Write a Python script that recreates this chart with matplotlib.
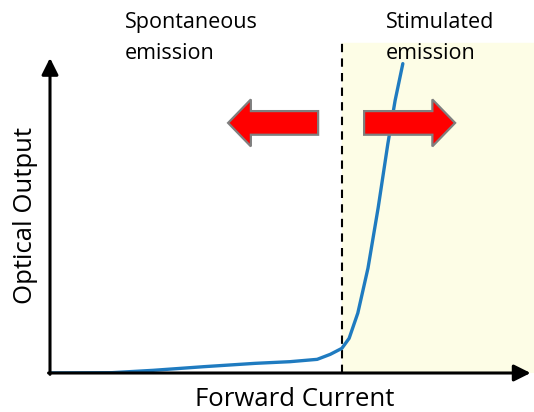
import matplotlib
matplotlib.use("Agg")
import matplotlib.pyplot as plt
from matplotlib.patches import FancyArrow

# forward current vs optical output (arbitrary units)
current = [0.2, 12.8, 21.3, 31.8, 42.4, 49.6, 55.2, 57.9, 60.3, 61.8, 63.6, 65.7, 67.8, 69.8, 71.3, 72.9]
output = [0.0, 0.1, 0.8, 1.9, 2.9, 3.4, 4.1, 5.6, 7.4, 10.4, 18.0, 31.5, 49.6, 68.8, 81.8, 92.9]
threshold = 60.3
region_labels = ["Spontaneous\nemission", "Stimulated\nemission"]
x_label = "Forward Current"
y_label = "Optical Output"

plt.rcParams['font.family'] = ['Open Sans', 'DejaVu Sans']

fig = plt.figure(figsize=(5.34, 4.12), dpi=100)
ax = fig.add_axes([50 / 534, (412 - 373) / 412, (534 - 50) / 534, (373 - 40) / 412])
ax.set_xlim(0, 100)
ax.set_ylim(0, 100)
ax.axis("off")

# shaded stimulated region
ax.axvspan(threshold, 100, ymin=0, ymax=0.99, color="#fdfde6", zorder=0)
ax.plot([threshold, threshold], [0, 99.5], color="black", lw=1.5, ls=(0, (4, 3)), zorder=2)

ax.plot(current, output, color="#1f7bc0", lw=2.4, solid_capstyle="round", zorder=3)

# axes with arrowheads
arrow_style = "-|>,head_width=0.5,head_length=1.0"
ax.annotate("", xy=(0, 94.6), xytext=(0, -0.4),
            arrowprops=dict(arrowstyle=arrow_style, color="black", lw=2.2,
                            shrinkA=0, shrinkB=0), annotation_clip=False)
ax.annotate("", xy=(99.3, 0), xytext=(-0.3, 0),
            arrowprops=dict(arrowstyle=arrow_style, color="black", lw=2.2,
                            shrinkA=0, shrinkB=0), annotation_clip=False)

# direction arrows
for x0, dx in [(55.4, -18.6), (64.9, 18.8)]:
    ax.add_patch(FancyArrow(x0, 75.1, dx, 0, width=7.1, head_width=14.1, head_length=4.7,
                            length_includes_head=True, facecolor="#ff0000", edgecolor="#7f7f7f",
                            lw=1.6, zorder=4))

fig.text(125 / 534, 1 - 38 / 412, region_labels[0], fontsize=15.5, ha="left", va="center",
         linespacing=1.6)
fig.text(386 / 534, 1 - 38 / 412, region_labels[1], fontsize=15.5, ha="left", va="center",
         linespacing=1.6)
fig.text(295 / 534, 1 - 400 / 412, x_label, fontsize=18.5, ha="center", va="center")
fig.text(25.5 / 534, 1 - 216 / 412, y_label, fontsize=18.5, ha="center", va="center", rotation=90)

fig.savefig("out.png", dpi=100)
